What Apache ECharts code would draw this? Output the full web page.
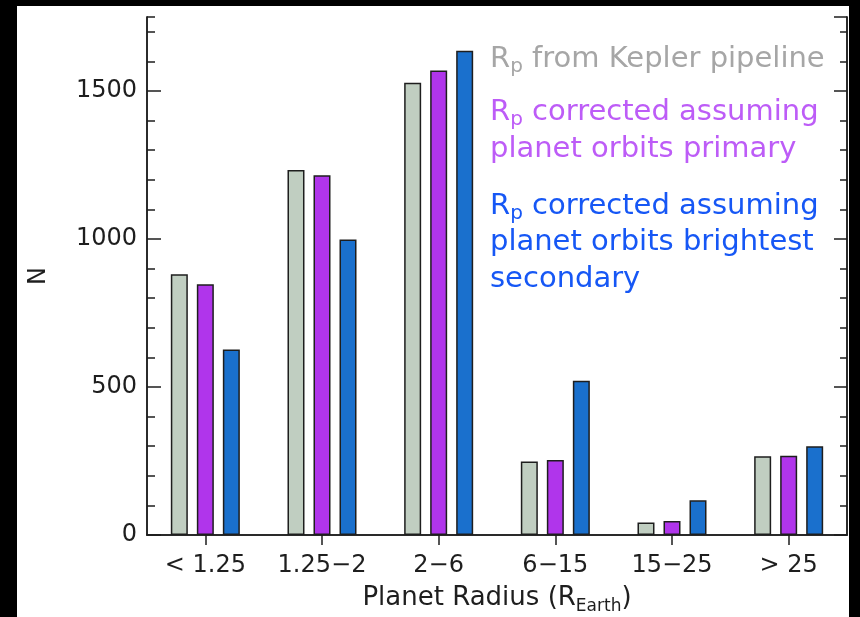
<!DOCTYPE html>
<html>
<head>
<meta charset="utf-8">
<script src="https://cdn.jsdelivr.net/npm/echarts@6/dist/echarts.min.js"></script>
<style>
  html, body { margin: 0; padding: 0; background: #000; }
  #paper { position: absolute; left: 17px; top: 6px; width: 832px; height: 611px; background: #fff; }
  #chart { position: absolute; left: 0; top: 0; width: 860px; height: 617px; }
</style>
</head>
<body>
<div id="paper"></div>
<div id="chart"></div>
<script>
// Planet radius bins (Earth radii)
const categories = ['< 1.25', '1.25\u22122', '2\u22126', '6\u221215', '15\u221225', '> 25'];

// Number of planets per bin
const keplerPipeline   = [881, 1233, 1528, 248, 42, 266];
const orbitsPrimary    = [847, 1215, 1569, 253, 47, 268];
const orbitsSecondary  = [627,  998, 1636, 521, 117, 300];

// Count axis
const yMin = 0;
const yMax = 1750;
const yMajorStep = 500;
const yMinorStep = 100;

const FONT = 'DejaVu Sans';
const INK = '#1e1e1e';

const chart = echarts.init(document.getElementById('chart'), null, { renderer: 'canvas' });

const barStyle = (fill) => ({ color: fill, borderColor: INK, borderWidth: 1.5 });

const valueAxis = (position, step, tickLen, showLabels) => ({
  type: 'value',
  position: position,
  min: yMin,
  max: yMax,
  interval: step,
  axisLine: { show: true, lineStyle: { color: INK, width: 1.5 } },
  axisTick: { show: true, inside: true, length: tickLen, lineStyle: { color: INK, width: 1.5 } },
  axisLabel: showLabels ? {
    show: true, margin: 10, fontFamily: FONT, fontSize: 24, color: INK, showMaxLabel: false,
    formatter: (v) => String(v)
  } : { show: false },
  splitLine: { show: false }
});

const legendText = (y, text, color, rich) => ({
  type: 'text',
  x: 490,
  y: y,
  z: 10,
  style: {
    text: text,
    fontFamily: FONT,
    fontSize: 29,
    fill: color,
    verticalAlign: 'middle',
    rich: rich
  }
});

const subRich = (color) => ({
  r: { fontFamily: FONT, fontSize: 29, color: color },
  s: { fontFamily: FONT, fontSize: 20, color: color, padding: [15, 0, 0, 0] },
  t: { fontFamily: FONT, fontSize: 29, color: color }
});

const GRAY_TXT = '#a6a6a6';
const PURPLE_TXT = '#bd5cf7';
const BLUE_TXT = '#1657f5';

const option = {
  animation: false,
  grid: { left: 147, top: 17, right: 13, bottom: 82, containLabel: false, outerBoundsMode: 'none' },
  xAxis: [
    {
      type: 'category',
      position: 'bottom',
      data: categories,
      axisLine: { show: true, lineStyle: { color: INK, width: 1.5 } },
      axisTick: { show: false },
      axisLabel: { margin: 19, fontFamily: FONT, fontSize: 24, color: INK },
      name: '{a|Planet Radius (R}{s|Earth}{a|)}',
      nameLocation: 'middle',
      nameGap: 47,
      nameTextStyle: {
        fontFamily: FONT, fontSize: 26, color: INK,
        rich: {
          a: { fontFamily: FONT, fontSize: 26, color: INK },
          s: { fontFamily: FONT, fontSize: 17, color: INK, padding: [16, 0, 0, 0] }
        }
      }
    },
    {
      type: 'category',
      position: 'top',
      data: categories,
      axisLine: { show: true, lineStyle: { color: INK, width: 1.5 } },
      axisTick: { show: true, inside: true, alignWithLabel: true, length: 10, lineStyle: { color: INK, width: 1.5 } },
      axisLabel: { show: false }
    }
  ],
  yAxis: [
    Object.assign(valueAxis('left', yMajorStep, 14, true), {
      name: 'N',
      nameLocation: 'middle',
      nameRotate: 90,
      nameGap: 96,
      nameTextStyle: { fontFamily: FONT, fontSize: 24, color: INK }
    }),
    valueAxis('left', yMinorStep, 8, false),
    valueAxis('right', yMajorStep, 13, false),
    valueAxis('right', yMinorStep, 7, false)
  ],
  series: [
    { name: 'Rp from Kepler pipeline', type: 'bar', xAxisIndex: 0, yAxisIndex: 0,
      data: keplerPipeline, barWidth: 17, barGap: '53%', itemStyle: barStyle('#c0cec1') },
    { name: 'Rp corrected assuming planet orbits primary', type: 'bar', xAxisIndex: 0, yAxisIndex: 0,
      data: orbitsPrimary, barWidth: 17, barGap: '53%', itemStyle: barStyle('#b035eb') },
    { name: 'Rp corrected assuming planet orbits brightest secondary', type: 'bar', xAxisIndex: 0, yAxisIndex: 0,
      data: orbitsSecondary, barWidth: 17, barGap: '53%', itemStyle: barStyle('#1a70cd') }
  ],
  graphic: {
    elements: [
      legendText(59, '{r|R}{s|p}{t| from Kepler pipeline}', GRAY_TXT, subRich(GRAY_TXT)),
      legendText(112.5, '{r|R}{s|p}{t| corrected assuming}', PURPLE_TXT, subRich(PURPLE_TXT)),
      legendText(149, 'planet orbits primary', PURPLE_TXT),
      legendText(206, '{r|R}{s|p}{t| corrected assuming}', BLUE_TXT, subRich(BLUE_TXT)),
      legendText(242.5, 'planet orbits brightest', BLUE_TXT),
      legendText(279, 'secondary', BLUE_TXT)
    ]
  }
};

chart.setOption(option);
</script>
</body>
</html>
